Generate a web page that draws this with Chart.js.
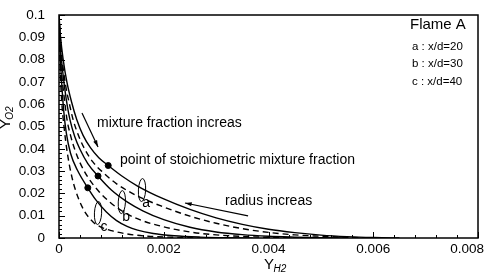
<!DOCTYPE html>
<html>
<head>
<meta charset="utf-8">
<script src="https://cdn.jsdelivr.net/npm/chart.js@4.4.0/dist/chart.umd.min.js"></script>
<style>
  html, body { margin: 0; padding: 0; background: #fff; }
  #wrap { width: 490px; height: 273px; }
</style>
</head>
<body>
<div id="wrap"><canvas id="c"></canvas></div>
<script>
// ---- tick values -------------------------------------------------------
const xTicks = [0, 0.002, 0.004, 0.006, 0.008];
const yTicks = [0, 0.01, 0.02, 0.03, 0.04, 0.05, 0.06, 0.07, 0.08, 0.09, 0.1];

// ---- curves --------------------------------------------------------------
// a : x/d=20
const aSolidX = [0, 0.00003, 0.00008, 0.00015, 0.00024, 0.00034, 0.00046, 0.0006, 0.00076, 0.00094, 0.0012, 0.0015, 0.002, 0.0025, 0.003, 0.0035, 0.004, 0.0045, 0.005, 0.0055, 0.006, 0.0065];
const aSolidY = [0.1, 0.09, 0.08, 0.07, 0.061, 0.053, 0.046, 0.0405, 0.036, 0.0325, 0.0278, 0.0233, 0.0175, 0.0128, 0.009, 0.0061, 0.0039, 0.0024, 0.0013, 0.0006, 0.0002, 0];
const aDashX = [0, 0.00003, 0.00007, 0.00013, 0.0002, 0.00027, 0.00038, 0.0005, 0.00065, 0.00085, 0.0011, 0.0015, 0.002, 0.0025, 0.003, 0.0035, 0.004, 0.0045, 0.005, 0.0055, 0.006];
const aDashY = [0.1, 0.088, 0.078, 0.068, 0.06, 0.053, 0.0455, 0.0395, 0.034, 0.0292, 0.0243, 0.0188, 0.0139, 0.0098, 0.0066, 0.0042, 0.0025, 0.0014, 0.0008, 0.0003, 0];
// b : x/d=30
const bSolidX = [0, 0.00002, 0.00006, 0.00011, 0.00016, 0.00021, 0.0003, 0.0004, 0.00055, 0.000745, 0.001, 0.0013, 0.0016, 0.002, 0.0025, 0.003, 0.0035, 0.004, 0.0045, 0.005, 0.0055];
const bSolidY = [0.1, 0.088, 0.077, 0.067, 0.059, 0.053, 0.0455, 0.0398, 0.0334, 0.0278, 0.0215, 0.0162, 0.0122, 0.0082, 0.0048, 0.0027, 0.0015, 0.0008, 0.0004, 0.0001, 0];
const bDashX = [0, 0.00002, 0.00005, 0.0001, 0.00015, 0.00022, 0.0003, 0.0004, 0.00055, 0.00075, 0.001, 0.0013, 0.0016, 0.002, 0.0025, 0.003, 0.0035, 0.004, 0.0045, 0.005];
const bDashY = [0.1, 0.085, 0.074, 0.063, 0.0535, 0.046, 0.0398, 0.0338, 0.0273, 0.0212, 0.0155, 0.0108, 0.0077, 0.005, 0.0027, 0.0014, 0.0007, 0.0003, 0.0001, 0];
// c : x/d=40
const cSolidX = [0, 0.00002, 0.00005, 0.00009, 0.00014, 0.00022, 0.00035, 0.00055, 0.0007, 0.0009, 0.0011, 0.0013, 0.0015, 0.0018, 0.0022, 0.0027, 0.0032, 0.0037];
const cSolidY = [0.1, 0.084, 0.07, 0.057, 0.047, 0.038, 0.0305, 0.0225, 0.0172, 0.0118, 0.0078, 0.0052, 0.0035, 0.002, 0.001, 0.0004, 0.0001, 0];
const cDashX = [0, 0.00002, 0.00005, 0.0001, 0.00016, 0.00025, 0.00037, 0.0005, 0.00065, 0.0008, 0.001, 0.0013, 0.0017, 0.0022, 0.0027];
const cDashY = [0.1, 0.078, 0.062, 0.049, 0.038, 0.027, 0.0178, 0.0115, 0.0072, 0.0049, 0.0033, 0.0018, 0.0008, 0.0003, 0];

// points of stoichiometric mixture fraction (a, b, c)
const stoichX = [0.00094, 0.000745, 0.00055];
const stoichY = [0.0325, 0.0278, 0.0225];

// ---- helpers -----------------------------------------------------------
const FONT = "'Liberation Sans', Arial, sans-serif";
const pts = (xs, ys) => xs.map((x, i) => ({ x: x, y: ys[i] }));
const fmt = v => (v === 0 ? "0" : String(parseFloat(v.toFixed(4))));

function curve(xs, ys, dashed) {
  return {
    data: pts(xs, ys),
    showLine: true,
    borderColor: "#000",
    borderWidth: 1.4,
    borderDash: dashed ? [6, 4] : [],
    pointRadius: 0,
    cubicInterpolationMode: "monotone"
  };
}

// annotation positions in data units
const notes = {
  texts: [
    { t: "mixture fraction increas", x: 0.000726, y: 0.0516, size: 14 },
    { t: "point of stoichiometric mixture fraction", x: 0.001165, y: 0.035, size: 14 },
    { t: "radius increas", x: 0.00317, y: 0.0166, size: 14 },
    { t: "Flame A", x: 0.006702, y: 0.0955, size: 15 },
    { t: "a : x/d=20", x: 0.00674, y: 0.0857, size: 11.5 },
    { t: "b : x/d=30", x: 0.00674, y: 0.078, size: 11.5 },
    { t: "c : x/d=40", x: 0.00674, y: 0.07, size: 11.5 },
    { t: "a", x: 0.00159, y: 0.0155, size: 14 },
    { t: "b", x: 0.00121, y: 0.0094, size: 14 },
    { t: "c", x: 0.00079, y: 0.0049, size: 14 }
  ],
  arrows: [
    { x1: 0.000439, y1: 0.0561, x2: 0.000745, y2: 0.0408 },
    { x1: 0.00361, y1: 0.0099, x2: 0.002406, y2: 0.0157 }
  ],
  ellipses: [
    { x: 0.001585, y: 0.0215 },
    { x: 0.0012, y: 0.0161 },
    { x: 0.000745, y: 0.0112 }
  ]
};

// ---- frame, inward ticks, axis titles, annotations -----------------------
const decor = {
  id: "decor",
  afterDraw(chart) {
    const { ctx, chartArea: a, scales: { x, y } } = chart;
    ctx.save();
    ctx.strokeStyle = "#000";
    ctx.fillStyle = "#000";

    // frame
    ctx.lineWidth = 1.5;
    ctx.strokeRect(a.left, a.top, a.right - a.left, a.bottom - a.top);

    // inward ticks
    ctx.lineWidth = 1;
    ctx.beginPath();
    for (let i = 0; i <= 50; i++) {
      const py = Math.round(y.getPixelForValue(i * 0.002)) + 0.5;
      const len = i % 5 === 0 ? 6 : 3;
      ctx.moveTo(a.left, py); ctx.lineTo(a.left + len, py);
    }
    for (let i = 0; i <= 20; i++) {
      const px = Math.round(x.getPixelForValue(i * 0.0004)) + 0.5;
      const len = i % 5 === 0 ? 6 : 3;
      ctx.moveTo(px, a.bottom); ctx.lineTo(px, a.bottom - len);
    }
    ctx.stroke();

    // x tick labels
    ctx.font = "13.5px " + FONT;
    ctx.textAlign = "center";
    ctx.textBaseline = "top";
    xTicks.forEach(v => {
      const s = fmt(v);
      const w = ctx.measureText(s).width;
      const px = Math.min(x.getPixelForValue(v), chart.width - 6 - w / 2);
      ctx.fillText(s, px, a.bottom + 5);
    });

    // axis titles
    ctx.textAlign = "center";
    ctx.textBaseline = "middle";
    ctx.font = "15px " + FONT;
    ctx.fillText("Y", 269, 265);
    ctx.font = "italic 10px " + FONT;
    ctx.fillText("H2", 280, 269);

    ctx.save();
    ctx.translate(6, 124);
    ctx.rotate(-Math.PI / 2);
    ctx.font = "15px " + FONT;
    ctx.fillText("Y", 0, 0);
    ctx.font = "italic 10px " + FONT;
    ctx.fillText("O2", 11, 4.5);
    ctx.restore();

    // texts
    ctx.textAlign = "left";
    notes.texts.forEach(n => {
      ctx.font = n.size + "px " + FONT;
      ctx.fillText(n.t, x.getPixelForValue(n.x), y.getPixelForValue(n.y));
    });

    // arrows
    ctx.lineWidth = 1.2;
    notes.arrows.forEach(n => {
      const x1 = x.getPixelForValue(n.x1), y1 = y.getPixelForValue(n.y1);
      const x2 = x.getPixelForValue(n.x2), y2 = y.getPixelForValue(n.y2);
      const ang = Math.atan2(y2 - y1, x2 - x1);
      ctx.beginPath(); ctx.moveTo(x1, y1); ctx.lineTo(x2, y2); ctx.stroke();
      ctx.beginPath();
      ctx.moveTo(x2, y2);
      ctx.lineTo(x2 - 7 * Math.cos(ang - 0.3), y2 - 7 * Math.sin(ang - 0.3));
      ctx.lineTo(x2 - 7 * Math.cos(ang + 0.3), y2 - 7 * Math.sin(ang + 0.3));
      ctx.closePath(); ctx.fill();
    });

    // ellipses
    ctx.lineWidth = 1;
    notes.ellipses.forEach(n => {
      ctx.beginPath();
      ctx.ellipse(x.getPixelForValue(n.x), y.getPixelForValue(n.y), 3.6, 11.5, 0.05, 0, Math.PI * 2);
      ctx.stroke();
    });

    ctx.restore();
  }
};

new Chart(document.getElementById("c"), {
  type: "scatter",
  data: {
    datasets: [
      curve(aSolidX, aSolidY, false),
      curve(aDashX, aDashY, true),
      curve(bSolidX, bSolidY, false),
      curve(bDashX, bDashY, true),
      curve(cSolidX, cSolidY, false),
      curve(cDashX, cDashY, true),
      {
        data: pts(stoichX, stoichY),
        pointRadius: 3,
        pointBackgroundColor: "#000",
        pointBorderColor: "#000",
        showLine: false
      }
    ]
  },
  options: {
    responsive: true,
    maintainAspectRatio: false,
    animation: false,
    layout: { padding: { top: 15, right: 12, left: 0, bottom: 0 } },
    plugins: { legend: { display: false }, tooltip: { enabled: false } },
    scales: {
      x: {
        type: "linear", min: 0, max: 0.008,
        grid: { display: false },
        border: { display: false },
        ticks: { display: false },
        afterBuildTicks: s => { s.ticks = xTicks.map(v => ({ value: v })); },
        afterFit: s => { s.height = 35; }
      },
      y: {
        type: "linear", min: 0, max: 0.1,
        grid: { display: false },
        border: { display: false },
        ticks: {
          color: "#000", padding: 6, autoSkip: false,
          font: { family: FONT, size: 13.5 },
          callback: v => fmt(v)
        },
        afterBuildTicks: s => { s.ticks = yTicks.map(v => ({ value: v })); },
        afterFit: s => { s.width = 59; }
      }
    }
  },
  plugins: [decor]
});
</script>
</body>
</html>
